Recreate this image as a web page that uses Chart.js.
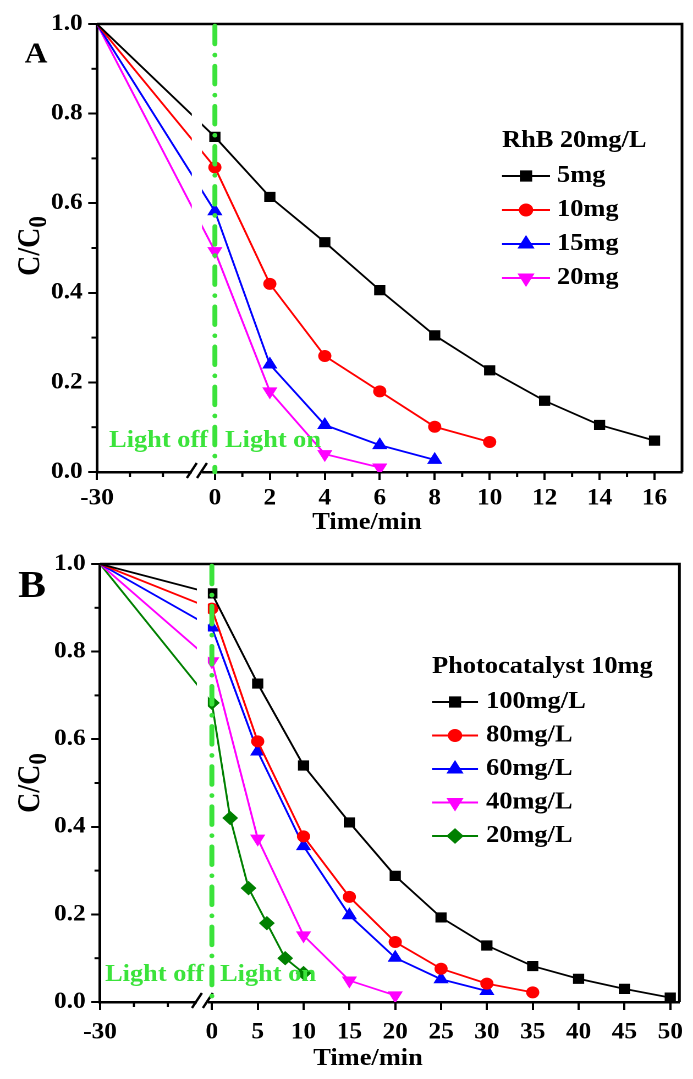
<!DOCTYPE html>
<html>
<head>
<meta charset="utf-8">
<script src="https://cdn.jsdelivr.net/npm/chart.js@4.4.0/dist/chart.umd.min.js"></script>
<style>
  html, body { margin: 0; padding: 0; background: #fff; overflow: hidden; }
  /* the source figure is stretched sideways, so each panel is drawn narrower and widened */
  .panel { position: absolute; left: 0; width: 630px; transform: scaleX(1.1); transform-origin: 0 0; }
  #wrapA { top: 0; height: 540px; }
  #wrapB { top: 540px; height: 539px; }
</style>
</head>
<body>
<div class="panel" id="wrapA"><canvas id="chartA"></canvas></div>
<div class="panel" id="wrapB"><canvas id="chartB"></canvas></div>
<script>
const FONT = '"Liberation Serif", "Times New Roman", Times, serif';
const LIGHT_GREEN = '#3be33b';
const STRETCH = 1.1;
const PANEL_W = 630;

// Panel A - RhB 20mg/L, catalyst mass varied
const timeA5 = [-30, 0, 2, 4, 6, 8, 10, 12, 14, 16];
const cA5 = [1.0, 0.748, 0.614, 0.513, 0.406, 0.305, 0.227, 0.159, 0.105, 0.07];
const timeA10 = [-30, 0, 2, 4, 6, 8, 10];
const cA10 = [1.0, 0.68, 0.42, 0.259, 0.18, 0.101, 0.067];
const timeA15 = [-30, 0, 2, 4, 6, 8];
const cA15 = [1.0, 0.582, 0.24, 0.105, 0.06, 0.027];
const timeA20 = [-30, 0, 2, 4, 6];
const cA20 = [1.0, 0.493, 0.18, 0.04, 0.01];
const labelsA = ['5mg', '10mg', '15mg', '20mg'];
const xTicksA = [-30, 0, 2, 4, 6, 8, 10, 12, 14, 16];
const xMinorA = [-20, -10, 1, 3, 5, 7, 9, 11, 13, 15];

// Panel B - photocatalyst 10mg, RhB concentration varied
const timeB100 = [-30, 0, 5, 10, 15, 20, 25, 30, 35, 40, 45, 50];
const cB100 = [1.0, 0.933, 0.727, 0.54, 0.41, 0.288, 0.193, 0.129, 0.082, 0.053, 0.03, 0.01];
const timeB80 = [-30, 0, 5, 10, 15, 20, 25, 30, 35];
const cB80 = [1.0, 0.898, 0.595, 0.378, 0.24, 0.137, 0.076, 0.042, 0.022];
const timeB60 = [-30, 0, 5, 10, 15, 20, 25, 30];
const cB60 = [1.0, 0.855, 0.572, 0.356, 0.198, 0.101, 0.052, 0.025];
const timeB40 = [-30, 0, 5, 10, 15, 20];
const cB40 = [1.0, 0.778, 0.373, 0.152, 0.049, 0.015];
const timeB20 = [-30, 0, 2, 4, 6, 8, 10];
const cB20 = [1.0, 0.683, 0.42, 0.26, 0.18, 0.1, 0.066];
const labelsB = ['100mg/L', '80mg/L', '60mg/L', '40mg/L', '20mg/L'];
const xTicksB = [-30, 0, 5, 10, 15, 20, 25, 30, 35, 40, 45, 50];
const xMinorB = [-20, -10];

const yTicks = [0, 0.2, 0.4, 0.6, 0.8, 1.0];
const yMinor = [0.1, 0.3, 0.5, 0.7, 0.9];

const seriesStyles = [
  { color: '#000000', pointStyle: 'rect', rotation: 0, radius: 6.5 },
  { color: '#ff0000', pointStyle: 'circle', rotation: 0, radius: 5.5 },
  { color: '#0000ff', pointStyle: 'triangle', rotation: 0, radius: 7 },
  { color: '#ff00ff', pointStyle: 'triangle', rotation: 180, radius: 7 },
  { color: '#008000', pointStyle: 'rectRot', rotation: 0, radius: 6.5 }
];

// page x (after the stretch) -> canvas x
const sx = (x) => x / STRETCH;

/**
 * Broken time axis: the dark period (t < 0) is squeezed into a short segment
 */
function breakAxis(offset, slope) {
  return (t) => (t >= 0 ? t : offset + slope * t);
}

const panelA = {
  id: 'chartA',
  series: [[timeA5, cA5], [timeA10, cA10], [timeA15, cA15], [timeA20, cA20]],
  labels: labelsA,
  legendTitle: 'RhB 20mg/L',
  toAxis: breakAxis(-0.69, 0.12),
  xMax: 17,
  xTicks: xTicksA,
  xMinor: xMinorA,
  area: { left: 97, top: 24, right: 682, bottom: 472, height: 540 },
  tickPad: 5,
  gap: [-0.84, -0.47],
  letter: 'A', letterSize: 29, letterPos: [36, 55],
  legend: { x: 502, y: 141, firstRow: 176, rowH: 34, lineEnd: 550, textX: 557 },
  light: { y: 441, offX: 109, onX: 225 },
  xTitle: [367, 523],
  yTitle: [31, 246]
};

const panelB = {
  id: 'chartB',
  series: [[timeB100, cB100], [timeB80, cB80], [timeB60, cB60], [timeB40, cB40], [timeB20, cB20]],
  labels: labelsB,
  legendTitle: 'Photocatalyst 10mg',
  toAxis: breakAxis(-1.1, 0.37),
  xMax: 51,
  xTicks: xTicksB,
  xMinor: xMinorB,
  area: { left: 100, top: 24, right: 680, bottom: 462, height: 539 },
  tickPad: 9,
  gap: [-1.63, -0.44],
  letter: 'B', letterSize: 38, letterPos: [32, 47],
  legend: { x: 432, y: 127, firstRow: 162, rowH: 33.5, lineEnd: 478, textX: 486 },
  light: { y: 435, offX: 105, onX: 220 },
  xTitle: [368, 519],
  yTitle: [31, 243]
};

/**
 * Plugin that draws the Origin-style extras: frame, minor ticks, axis break,
 * light on/off marker, legend and axis titles
 */
function makeDecor(p) {
  return {
    id: 'decor',
    afterDraw(chart) {
      const ctx = chart.ctx;
      const a = chart.chartArea;
      const xs = chart.scales.x;
      const ys = chart.scales.y;
      ctx.save();

      // gap in the dark-period lines and in the bottom axis
      const g1 = xs.getPixelForValue(p.gap[0]);
      const g2 = xs.getPixelForValue(p.gap[1]);
      ctx.fillStyle = '#fff';
      ctx.fillRect(g1, a.top + 2, g2 - g1, a.bottom - a.top + 1);

      ctx.strokeStyle = '#000';
      ctx.lineWidth = 2.2;
      [g1, g2].forEach((cx) => {
        ctx.beginPath();
        ctx.moveTo(cx - 4.5, a.bottom + 6);
        ctx.lineTo(cx + 4.5, a.bottom - 9);
        ctx.stroke();
      });

      // top and right frame
      ctx.lineWidth = 2.5;
      ctx.beginPath();
      ctx.moveTo(a.left, a.top);
      ctx.lineTo(a.right, a.top);
      ctx.lineTo(a.right, a.bottom);
      ctx.stroke();

      // minor ticks
      ctx.lineWidth = 2;
      p.xMinor.forEach((t) => {
        const px = xs.getPixelForValue(p.toAxis(t));
        ctx.beginPath();
        ctx.moveTo(px, a.bottom);
        ctx.lineTo(px, a.bottom + 5);
        ctx.stroke();
      });
      yMinor.forEach((v) => {
        const py = ys.getPixelForValue(v);
        ctx.beginPath();
        ctx.moveTo(a.left - 5, py);
        ctx.lineTo(a.left, py);
        ctx.stroke();
      });

      // light switched on at t = 0
      const x0 = xs.getPixelForValue(0);
      ctx.strokeStyle = LIGHT_GREEN;
      ctx.lineWidth = 4.5;
      ctx.lineCap = 'round';
      ctx.setLineDash([18, 11, 0.1, 11]);
      ctx.beginPath();
      ctx.moveTo(x0, a.top + 2);
      ctx.lineTo(x0, a.bottom);
      ctx.stroke();
      ctx.setLineDash([]);
      ctx.lineCap = 'butt';

      ctx.textBaseline = 'middle';
      ctx.textAlign = 'left';
      ctx.fillStyle = LIGHT_GREEN;
      ctx.font = `bold 24px ${FONT}`;
      ctx.fillText('Light off', sx(p.light.offX), p.light.y);
      ctx.fillText('Light on', sx(p.light.onX), p.light.y);

      // legend
      const lg = p.legend;
      ctx.fillStyle = '#000';
      ctx.fillText(p.legendTitle, sx(lg.x), lg.y);
      chart.data.datasets.forEach((ds, i) => {
        const st = seriesStyles[i];
        const y = lg.firstRow + i * lg.rowH;
        ctx.strokeStyle = st.color;
        ctx.lineWidth = 2;
        ctx.beginPath();
        ctx.moveTo(sx(lg.x), y);
        ctx.lineTo(sx(lg.lineEnd), y);
        ctx.stroke();
        ctx.fillStyle = st.color;
        Chart.helpers.drawPoint(ctx, {
          pointStyle: st.pointStyle,
          rotation: st.rotation,
          radius: st.radius,
          borderWidth: 1
        }, sx((lg.x + lg.lineEnd) / 2), y);
        ctx.fillStyle = '#000';
        ctx.fillText(ds.label, sx(lg.textX), y);
      });

      // panel letter and axis titles
      ctx.textAlign = 'center';
      ctx.font = `bold ${p.letterSize}px ${FONT}`;
      ctx.fillText(p.letter, sx(p.letterPos[0]), p.letterPos[1]);

      ctx.font = `bold 24px ${FONT}`;
      ctx.fillText('Time/min', sx(p.xTitle[0]), p.xTitle[1]);

      ctx.translate(sx(p.yTitle[0]), p.yTitle[1]);
      ctx.rotate(-Math.PI / 2);
      ctx.textAlign = 'left';
      ctx.font = `bold 28px ${FONT}`;
      const main = 'C/C';
      const wMain = ctx.measureText(main).width;
      ctx.font = `bold 23px ${FONT}`;
      const wSub = ctx.measureText('0').width;
      const start = -(wMain + wSub) / 2;
      ctx.font = `bold 28px ${FONT}`;
      ctx.fillText(main, start, 0);
      ctx.font = `bold 23px ${FONT}`;
      ctx.fillText('0', start + wMain, 8);

      ctx.restore();
    }
  };
}

/**
 * Build one panel of the figure
 */
function createPanel(p) {
  const datasets = p.series.map(([times, values], i) => {
    const st = seriesStyles[i];
    return {
      label: p.labels[i],
      data: times.map((t, j) => ({ x: p.toAxis(t), y: values[j] })),
      borderColor: st.color,
      backgroundColor: st.color,
      borderWidth: 1.8,
      tension: 0,
      pointStyle: st.pointStyle,
      pointRotation: st.rotation,
      pointRadius: times.map((t) => (t < 0 ? 0 : st.radius)),
      pointBorderWidth: 1
    };
  });

  const a = p.area;
  const tickFont = { family: FONT, size: 23, weight: 'bold' };

  return new Chart(document.getElementById(p.id), {
    type: 'line',
    data: { datasets },
    options: {
      responsive: true,
      maintainAspectRatio: false,
      animation: false,
      devicePixelRatio: 2,
      layout: {
        padding: { top: a.top, right: PANEL_W - sx(a.right), left: 0, bottom: 0 }
      },
      plugins: {
        legend: { display: false },
        tooltip: { enabled: false }
      },
      scales: {
        x: {
          type: 'linear',
          min: p.toAxis(-30),
          max: p.xMax,
          afterBuildTicks: (scale) => {
            scale.ticks = p.xTicks.map((t) => ({ value: p.toAxis(t) }));
          },
          afterFit: (scale) => {
            scale.height = a.height - a.bottom;
          },
          ticks: {
            autoSkip: false,
            maxRotation: 0,
            padding: p.tickPad,
            color: '#000',
            font: tickFont,
            callback: (value, index) => String(p.xTicks[index])
          },
          grid: {
            drawOnChartArea: false,
            tickLength: 8,
            tickWidth: 2,
            tickColor: '#000'
          },
          border: { display: true, width: 2.5, color: '#000' }
        },
        y: {
          min: 0,
          max: 1,
          afterBuildTicks: (scale) => {
            scale.ticks = yTicks.map((v) => ({ value: v }));
          },
          afterFit: (scale) => {
            scale.width = sx(a.left);
          },
          ticks: {
            padding: 5,
            color: '#000',
            font: tickFont,
            callback: (value) => value.toFixed(1)
          },
          grid: {
            drawOnChartArea: false,
            tickLength: 8,
            tickWidth: 2,
            tickColor: '#000'
          },
          border: { display: true, width: 2.5, color: '#000' }
        }
      }
    },
    plugins: [makeDecor(p)]
  });
}

createPanel(panelA);
createPanel(panelB);
</script>
</body>
</html>
